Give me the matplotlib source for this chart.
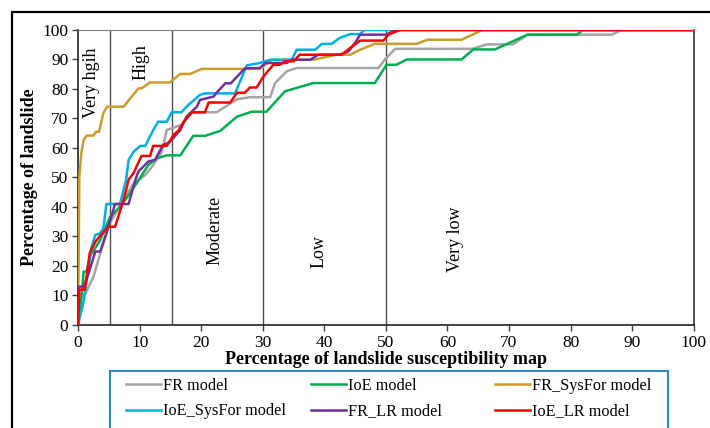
import matplotlib

matplotlib.use("Agg")
import matplotlib.pyplot as plt
from matplotlib.patches import Rectangle

plt.rcParams["font.family"] = ["Liberation Serif", "DejaVu Serif"]

# success-rate curves: % of susceptibility map (x) vs % of landslides (y)
fr_x = [0, 0.3, 1.1, 2.5, 3.6, 5, 7, 9, 10.9, 12.2, 13.6, 14.4, 16.8, 18.5, 22.5,
        25.8, 27.9, 31.2, 32, 33.9, 35.5, 48.8, 49.8, 51.5, 64, 66.4, 70.6, 73,
        86.7, 88.3, 100]
fr_y = [0, 10.2, 10.2, 16.4, 24.3, 34, 41, 48, 50.8, 54.2, 58.7, 66.1, 67.8,
        72.1, 72.1, 76.5, 77.2, 77.2, 82, 86, 87.1, 87.1, 89.9, 93.6, 93.6, 95.1,
        95.1, 98.4, 98.4, 100, 100]

ioe_x = [0, 0.6, 0.9, 1.4, 1.9, 3.6, 5.2, 7.1, 9.5, 11.4, 12.8, 14.4, 16.6,
         18.7, 20.6, 23.1, 25.8, 28.2, 30.6, 33.6, 38.2, 48.2, 50.1, 51.7, 53.4,
         62.3, 64.2, 67.7, 73, 81, 82, 100]
ioe_y = [0, 10.2, 18.1, 18.1, 23.2, 28.8, 36.7, 40.7, 48, 54.2, 56.5, 57.5,
         57.5, 64.1, 64.1, 65.8, 70.6, 72.3, 72.3, 79.2, 82, 82, 88.2, 88.2, 90,
         90, 93.4, 93.4, 98.4, 98.4, 100, 100]

frsf_x = [0, 0.1, 0.2, 0.5, 0.9, 1.4, 2.5, 2.9, 3.4, 4.1, 4.7, 7.4, 8.7, 9.8,
          10.3, 11.7, 14.9, 16.6, 18.2, 20.1, 29.5, 31.5, 38.2, 42, 44.2, 45.8,
          48.2, 55, 56.8, 62.3, 65.7, 100]
frsf_y = [0, 25, 50, 58, 62.7, 64.2, 64.2, 65.5, 65.5, 71.8, 74, 74, 77.4, 80.2,
          80.2, 82.2, 82.2, 85.1, 85.1, 86.8, 86.8, 89.9, 89.9, 91.6, 91.6, 93.3,
          95.3, 95.3, 96.7, 96.7, 100, 100]

ioesf_x = [0, 0.3, 0.9, 2.2, 2.8, 3.6, 4.1, 4.6, 6.8, 7.8, 8.2, 9, 10.1, 10.9,
           12.2, 13, 14.4, 15.2, 16.8, 17.6, 19.8, 20.6, 25.5, 27.4, 29.5, 31.2,
           34.7, 35.5, 38.5, 39.6, 41.2, 42.5, 44.2, 45.8, 46.5, 100]
ioesf_y = [0, 2.8, 8, 26.5, 30.5, 31.1, 32.8, 41, 41, 49.2, 55.9, 58.7, 60.7,
           60.7, 66, 68.9, 68.9, 72.1, 72.1, 74, 78, 78.5, 78.5, 88, 88.8, 89.9,
           89.9, 93.3, 93.3, 95.3, 95.3, 97.3, 98.6, 98.6, 100, 100]

frlr_x = [0, 0.05, 0.9, 1.7, 2.8, 3.6, 4.6, 6, 8.2, 9.3, 9.8, 11.4, 12.5, 13.8,
          14.9, 16.6, 17.6, 19.3, 19.8, 22, 22.5, 23.9, 24.8, 27.1, 29.5, 30.4,
          33.9, 34.7, 37.7, 39, 42.5, 43.9, 45, 45.8, 50.1, 51.5, 100]
frlr_y = [0, 13, 13, 17.5, 24.9, 24.9, 31.1, 41, 41, 49.2, 52, 55.4, 56, 61,
          62, 66.1, 70.6, 74, 76.3, 77.4, 78.7, 81.9, 81.9, 87, 87.1, 88.8, 88.8,
          89.9, 89.9, 91.6, 91.6, 92.7, 95.6, 98.4, 98.4, 100, 100]

ioelr_x = [0, 0.2, 1.1, 1.9, 2.8, 3.6, 4.9, 6, 7.4, 8.2, 9, 10.3, 11.7, 12.2,
           14.4, 15.5, 16.3, 17.2, 18.5, 20.6, 21.2, 24.7, 25.8, 27.1, 27.9, 29,
           30.1, 31.7, 32.8, 33.6, 35, 36, 42.8, 44.2, 45.8, 49.6, 50.4, 52.3, 100]
ioelr_y = [0, 12, 12, 24.5, 28.2, 30.3, 33.3, 33.3, 42.4, 49.2, 51.5, 57.3,
           57.3, 60.7, 60.7, 64.4, 65.9, 69, 72.1, 72.1, 75.4, 75.4, 78.7, 78.7,
           80.5, 80.5, 84.2, 88.2, 88.2, 89.4, 89.4, 91.6, 91.6, 93.9, 96.4, 96.4,
           98.4, 100, 100]

series = [
    ("FR model", fr_x, fr_y, "#a5a5a5"),
    ("IoE model", ioe_x, ioe_y, "#00b050"),
    ("FR_SysFor model", frsf_x, frsf_y, "#cc9c2c"),
    ("IoE_SysFor model", ioesf_x, ioesf_y, "#00b0e8"),
    ("FR_LR model", frlr_x, frlr_y, "#7030a0"),
    ("IoE_LR model", ioelr_x, ioelr_y, "#ff0000"),
]

# susceptibility class boundaries and labels
bounds = [5.2, 15.2, 30, 50]
zone_labels = ["Very hgih", "High", "Moderate", "Low", "Very low"]
zone_x = [2.2, 10.2, 22.3, 39.2, 61.3]
zone_y = [82, 89, 32, 25, 29]

fig = plt.figure(figsize=(7.1, 4.28), dpi=100)
ax = fig.add_axes([0.110, 0.2407, 0.867, 0.6893])

for b in bounds:
    ax.plot([b, b], [0, 100], color="#4d4d4d", lw=1.0, zorder=1)

lines = []
for label, xs, ys, c in series:
    ln, = ax.plot(xs, ys, color=c, lw=1.8, label=label, zorder=3)
    lines.append(ln)

for t, x, y in zip(zone_labels, zone_x, zone_y):
    ax.text(x, y, t, rotation=90, ha="center", va="center", fontsize=13)

ax.set_xlim(0, 100)
ax.set_ylim(0, 100)
ax.set_xticks(range(0, 101, 10))
ax.set_yticks(range(0, 101, 10))
ax.tick_params(labelsize=12.5, direction="out", length=4, width=1,
               color="#404040", pad=3)
ax.set_xlabel("Percentage of landslide susceptibility map", fontsize=13,
              fontweight="bold", labelpad=0)
ax.set_ylabel("Percentage of landslide", fontsize=13, fontweight="bold",
              labelpad=3)
for s in ["left", "bottom"]:
    ax.spines[s].set_color("#222222")
    ax.spines[s].set_linewidth(1.2)
ax.spines["top"].set_color("#808080")
ax.spines["right"].set_color("#333333")
ax.spines["right"].set_linewidth(1.2)

# legend: Excel-like layout, 3 columns filled row by row
col_left = [126 / 710, 311 / 710, 495 / 710]
for i, x0 in enumerate(col_left):
    pair = [lines[i], lines[i + 3]]
    fig.legend(pair, [l.get_label() for l in pair], loc="upper left",
               bbox_to_anchor=(x0, 0.117), frameon=False, fontsize=11.7,
               handlelength=2.15, handletextpad=0.15, labelspacing=0.58,
               borderpad=0, borderaxespad=0)
fig.patches.append(Rectangle((110 / 710, -0.1), 558 / 710, 0.1 + 57 / 428,
                             transform=fig.transFigure, fill=False,
                             edgecolor="#2e8bc9", lw=1.5))

# outer frame of the figure panel (cut at right and bottom)
fig.patches.append(Rectangle((12 / 710, -0.1), 1.2, 1.1 - 12 / 428,
                             transform=fig.transFigure, fill=False,
                             edgecolor="black", lw=1.6))

fig.savefig("out.png", dpi=100)
